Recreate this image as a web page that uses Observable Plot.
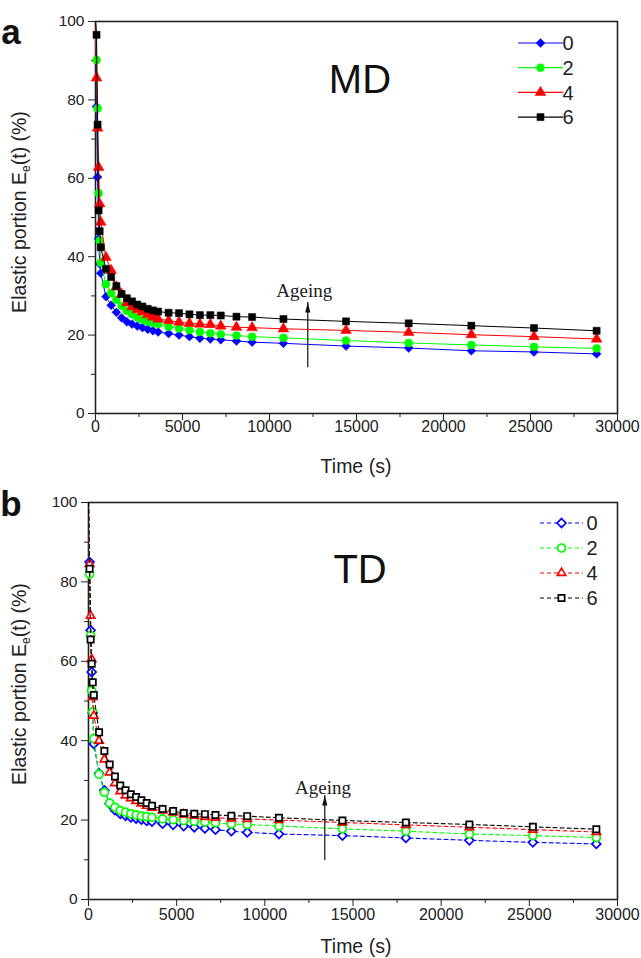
<!DOCTYPE html>
<html><head><meta charset="utf-8">
<script src="https://cdn.jsdelivr.net/npm/d3@7"></script>
<script src="https://cdn.jsdelivr.net/npm/@observablehq/plot@0.6"></script>
<style>
body{margin:0;background:#fff;}
#wrap{position:relative;width:641px;height:958px;overflow:hidden;font-family:"Liberation Sans",Arial,sans-serif;}
#wrap svg{display:block;}
</style></head><body><div id="wrap"></div>
<script>
// ---- data ----
const times = [0,60,120,180,240,300,600,900,1200,1500,1800,2100,2400,2700,3000,3300,3600,4200,4800,5400,6000,6600,7200,8100,9000,10800,14400,18000,21600,25200,28800];
const seriesNames = ["0","2","4","6"];
const colors = ["#0000ff","#00ff00","#ff0000","#000000"];

// MD (panel a)
const md0 = [100,78.3,60.3,44.6,38.2,35.8,29.8,27.6,25.8,24.4,23.4,22.8,22.3,21.9,21.5,21.1,20.8,20.4,20.0,19.6,19.2,19.0,18.8,18.5,18.2,17.9,17.2,16.7,16.0,15.7,15.2];
const md2 = [100,90.2,77.8,56.2,44.1,38.5,33.0,30.7,29.0,27.4,26.2,25.3,24.5,23.9,23.5,23.1,22.8,22.1,21.7,21.3,20.8,20.5,20.2,19.9,19.6,19.3,18.6,18.0,17.5,17.0,16.6];
const md4 = [100,85.6,72.8,62.8,53.5,48.8,39.8,36.5,32.3,30.4,28.2,27.2,26.5,25.9,25.2,24.6,24.1,23.7,23.3,23.0,22.8,22.7,22.3,22.0,21.9,21.6,21.2,20.7,20.1,19.6,19.0];
const md6 = [100,96.6,73.7,51.8,46.5,42.4,36.9,34.8,32.5,30.5,29.4,28.6,27.8,27.3,26.7,26.3,26.0,25.7,25.6,25.3,25.1,25.1,25.0,24.7,24.6,24.1,23.5,23.0,22.4,21.8,21.1];

// TD (panel b)
const td0 = [100,85.0,67.8,57.3,47.0,39.2,31.8,27.5,24.1,22.5,21.6,21.1,20.7,20.4,20.1,19.8,19.6,19.1,18.8,18.5,18.2,17.9,17.6,17.2,16.9,16.5,16.1,15.5,14.9,14.4,14.0];
const td2 = [100,82.0,66.5,52.6,47.2,40.5,31.5,27.0,24.3,23.2,22.4,22.0,21.6,21.3,21.0,20.9,20.7,20.3,20.1,19.9,19.7,19.5,19.3,19.0,18.9,18.5,17.8,17.2,16.5,16.1,15.6];
const td4 = [100,84.5,71.5,60.5,51.0,46.3,40.0,35.3,32.0,29.3,27.3,26.2,25.5,24.8,24.2,23.6,23.1,22.4,21.9,21.4,21.1,20.8,20.6,20.4,20.3,20.0,19.4,18.8,18.2,17.6,17.0];
const td6 = [100,83.3,65.5,59.4,54.7,51.5,42.1,37.4,34.0,31.0,28.7,27.5,26.5,25.8,25.0,24.3,23.6,22.8,22.3,21.8,21.6,21.5,21.3,21.1,21.0,20.6,19.9,19.4,18.9,18.3,17.7];

// ticks
const xMajor = [0,5000,10000,15000,20000,25000,30000];
const xMinor = [2500,7500,12500,17500,22500,27500];
const yMajor = [0,20,40,60,80,100];
const yMinor = [10,30,50,70,90];

// annotations
const panelNames = ["MD","TD"];
const panelLetters = ["a","b"];
const ageingX = [12200, 13400];
const ageingY1 = [11.7, 9.8];
const ageingY2 = [28.3, 26.2];
const ageingTextX = [12000, 13300];
const ageingTextY = [29.6, 26.7];
const nameX = [15200, 15400];
const nameY = [85, 83];

// ---- build ----
function rowsFor(list){
  return list.flatMap((vals, i) => vals.map((v, j) => ({t: times[j], v, s: seriesNames[i]})));
}
const rowsMD = rowsFor([md0, md2, md4, md6]);
const rowsTD = rowsFor([td0, td2, td4, td6]);

const hasAxisMarks = typeof Plot.axisX === "function";
const FONT = "Liberation Sans, Arial, Helvetica, sans-serif";
const fmt = d => String(d);
const blank = () => "";

function panel(idx, rows, cfg){
  const marks = [];
  if (hasAxisMarks){
    marks.push(
      Plot.axisY(yMajor, {tickSize: 7, tickFormat: blank, label: null, stroke: "#222"}),
      Plot.axisY(yMinor, {tickSize: 4, tickFormat: blank, label: null, stroke: "#222"}),
      Plot.axisX(xMajor, {tickSize: 7, tickFormat: blank, label: null, stroke: "#222"}),
      Plot.axisX(xMinor, {tickSize: 4, tickFormat: blank, label: null, stroke: "#222"})
    );
  }
  // tick labels as text marks placed through the scales
  marks.push(
    Plot.text(yMajor, {x: () => 0, y: d => d, text: fmt, textAnchor: "end", dx: -11, fontSize: 15.5, fill: "#222"}),
    Plot.text(xMajor, {x: d => d, y: () => 0, text: fmt, lineAnchor: "top", dy: cfg.xlabDy, fontSize: 16, fill: "#222"})
  );
  marks.push(Plot.frame({stroke: "#222", strokeWidth: 1.6}));
  seriesNames.forEach((s) => {
    const d = rows.filter(r => r.s === s);
    marks.push(Plot.line(d, {x: "t", y: "v", stroke: "s", strokeWidth: cfg.lineWidth, strokeDasharray: cfg.dash}));
    marks.push(Plot.dot(d.filter(r => r.t > 0), {x: "t", y: "v", symbol: "s", r: 4,
      fill: cfg.open ? "white" : "s", stroke: "s", strokeWidth: cfg.open ? 1.7 : 0.5}));
  });
  marks.push(
    Plot.ruleX([0], {x: () => ageingX[idx], y1: () => ageingY1[idx], y2: () => ageingY2[idx], stroke: "#111", strokeWidth: 1.2}),
    Plot.vector([0], {x: () => ageingX[idx], y: () => ageingY2[idx], length: 10, r: 2.6, shape: "spike", anchor: "end", fill: "#111", stroke: "none"}),
    Plot.text(["Ageing"], {x: () => ageingTextX[idx], y: () => ageingTextY[idx], text: d => d, lineAnchor: "bottom",
      fontFamily: "Liberation Serif, Times New Roman, serif", fontSize: 19, fill: "#222"}),
    Plot.text([panelNames[idx]], {x: () => nameX[idx], y: () => nameY[idx], text: d => d, fontSize: 40, fill: "#111"})
  );
  const plot = Plot.plot({
    width: 641, height: 479,
    marginLeft: cfg.ml, marginRight: 24, marginTop: cfg.mt, marginBottom: cfg.mb,
    x: {domain: [0, 30000], ticks: xMajor, tickSize: 7, tickFormat: blank, label: null},
    y: {domain: [0, 100], ticks: yMajor, tickSize: 7, tickFormat: blank, label: null},
    color: {domain: seriesNames, range: colors},
    symbol: {domain: seriesNames, range: cfg.symbols},
    style: {fontFamily: FONT, fontSize: "15.5px", color: "#222", background: "white", overflow: "visible"},
    marks
  });
  const svg = d3.select(plot);
  // y label with subscript
  const yl = svg.append("text")
    .attr("transform", `translate(${cfg.ylx},${cfg.yly}) rotate(-90)`)
    .attr("text-anchor", "middle").attr("font-size", 19.5).attr("fill", "#222")
    .attr("font-family", FONT);
  yl.append("tspan").text("Elastic portion E");
  yl.append("tspan").attr("font-size", 12).attr("dy", 4).text("e");
  yl.append("tspan").attr("dy", -4).text("(t) (%)");
  // x label
  svg.append("text").attr("x", 356).attr("y", cfg.xly).attr("text-anchor", "middle")
    .attr("font-size", 19.5).attr("fill", "#222").attr("font-family", FONT).text("Time (s)");
  // panel letter
  svg.append("text").attr("x", 11).attr("y", cfg.lety).attr("font-size", 35).attr("font-weight", "bold")
    .attr("fill", "#111").attr("font-family", FONT).text(panelLetters[idx]);
  // legend
  const lg = svg.append("g");
  seriesNames.forEach((s, i) => {
    const y = cfg.legY + i * cfg.legStep;
    lg.append("line").attr("x1", cfg.legX1).attr("x2", cfg.legX2).attr("y1", y).attr("y2", y)
      .attr("stroke", colors[i]).attr("stroke-width", 1.2).attr("stroke-dasharray", cfg.dash || null);
    const symName = cfg.symbols[i];
    const symMap = {circle: d3.symbolCircle, diamond2: d3.symbolDiamond2, triangle: d3.symbolTriangle,
      triangle2: d3.symbolTriangle2, square: d3.symbolSquare, square2: d3.symbolSquare2};
    lg.append("path").attr("d", d3.symbol(symMap[symName], Math.PI * 16)())
      .attr("transform", `translate(${(cfg.legX1 + cfg.legX2) / 2},${y})`)
      .attr("fill", cfg.open ? "white" : colors[i]).attr("stroke", colors[i])
      .attr("stroke-width", cfg.open ? 1.7 : 0.5);
    lg.append("text").attr("x", cfg.legTX).attr("y", y).attr("dy", "0.36em")
      .attr("font-size", 20).attr("fill", "#222").attr("font-family", FONT).text(s);
  });
  return plot;
}

const wrap = document.getElementById("wrap");
wrap.appendChild(panel(0, rowsMD, {
  ml: 95, mt: 21, mb: 66, lineWidth: 1, dash: null, open: false,
  symbols: ["diamond2", "circle", "triangle", "square"],
  ylx: 26, yly: 212, xly: 473, lety: 44, xlabDy: 7,
  legX1: 518, legX2: 563, legTX: 568, legY: 43, legStep: 24.7
}));
wrap.appendChild(panel(1, rowsTD, {
  ml: 88, mt: 23, mb: 59, lineWidth: 1.1, dash: "4,3", open: true,
  symbols: ["diamond2", "circle", "triangle2", "square2"],
  ylx: 26, yly: 205, xly: 474, lety: 37, xlabDy: 9,
  legX1: 540, legX2: 583, legTX: 592, legY: 44, legStep: 25
}));
</script>
</body></html>
